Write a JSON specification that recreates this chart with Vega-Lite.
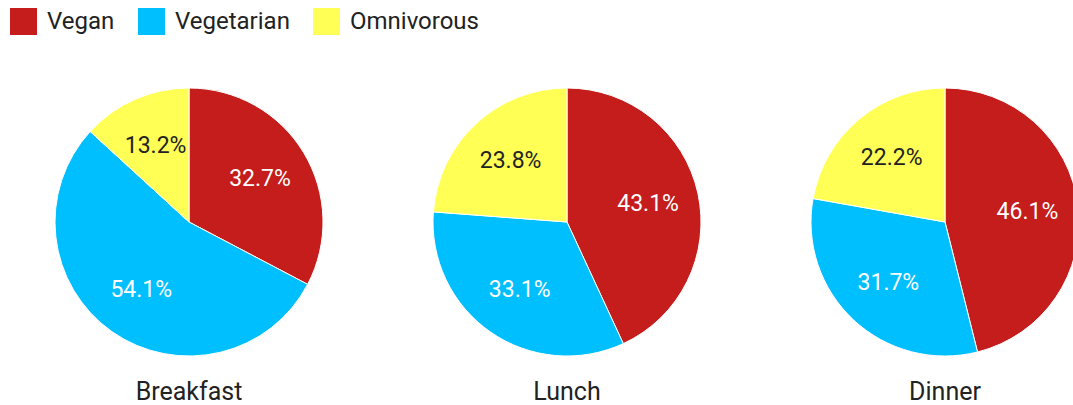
{
  "$schema": "https://vega.github.io/schema/vega-lite/v6.json",
  "padding": {"top": 8, "left": 0, "right": 0, "bottom": 0},
  "spacing": 0,
  "background": "white",
  "data": {"values": [
    {"meal": "Breakfast", "diet": "Vegan", "share": 0.327},
    {"meal": "Breakfast", "diet": "Vegetarian", "share": 0.541},
    {"meal": "Breakfast", "diet": "Omnivorous", "share": 0.132},
    {"meal": "Lunch", "diet": "Vegan", "share": 0.431},
    {"meal": "Lunch", "diet": "Vegetarian", "share": 0.331},
    {"meal": "Lunch", "diet": "Omnivorous", "share": 0.238},
    {"meal": "Dinner", "diet": "Vegan", "share": 0.461},
    {"meal": "Dinner", "diet": "Vegetarian", "share": 0.317},
    {"meal": "Dinner", "diet": "Omnivorous", "share": 0.222}
  ]},
  "transform": [
    {"calculate": "indexof(['Vegan', 'Vegetarian', 'Omnivorous'], datum.diet)", "as": "slice_order"}
  ],
  "facet": {
    "column": {
      "field": "meal",
      "type": "nominal",
      "sort": ["Breakfast", "Lunch", "Dinner"],
      "header": {
        "title": null,
        "labelOrient": "bottom",
        "labelFont": "Roboto",
        "labelFontSize": 25,
        "labelColor": "#222222",
        "labelBaseline": "alphabetic",
        "labelPadding": 42
      }
    }
  },
  "spec": {
    "width": 378,
    "height": 268,
    "encoding": {
      "theta": {"field": "share", "type": "quantitative", "stack": true},
      "order": {"field": "slice_order", "type": "quantitative", "sort": "ascending"}
    },
    "layer": [
      {
        "mark": {"type": "arc", "radius": 134, "stroke": "white", "strokeWidth": 1},
        "encoding": {
          "color": {
            "field": "diet",
            "type": "nominal",
            "sort": ["Vegan", "Vegetarian", "Omnivorous"],
            "scale": {"domain": ["Vegan", "Vegetarian", "Omnivorous"], "range": ["#c51c1c", "#00bfff", "#ffff55"]},
            "legend": {
              "orient": "none",
              "legendX": 10,
              "legendY": -80,
              "direction": "horizontal",
              "title": null,
              "symbolType": "square",
              "symbolSize": 729,
              "symbolStrokeWidth": 0,
              "labelFont": "Roboto",
              "labelFontSize": 24,
              "labelColor": "#222222",
              "labelOffset": 10,
              "columnPadding": 23,
              "padding": 0
            }
          }
        }
      },
      {
        "mark": {"type": "text", "radius": 83, "font": "Roboto", "fontSize": 23},
        "encoding": {
          "detail": {"field": "diet", "type": "nominal"},
          "text": {"field": "share", "type": "quantitative", "format": ".1%"},
          "color": {
            "condition": {"test": "datum.diet === 'Omnivorous'", "value": "#222222"},
            "value": "white"
          }
        }
      }
    ]
  }
}
